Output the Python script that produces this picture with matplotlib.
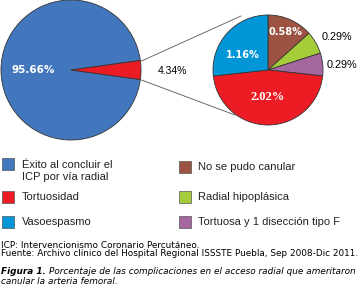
import matplotlib
matplotlib.use('Agg')
import matplotlib.pyplot as plt
from matplotlib.patches import Rectangle

# -------------------------------------------------------------------
# datos
# -------------------------------------------------------------------
big_labels = ['Éxito al concluir el\nICP por vía radial', 'Tortuosidad']
big_values = [95.66, 4.34]
big_colors = ['#4277BE', '#ED1C24']

small_labels = ['No se pudo canular', 'Radial hipoplásica',
                'Tortuosa y 1 disección tipo F', 'Tortuosidad', 'Vasoespasmo']
small_values = [0.58, 0.29, 0.29, 2.02, 1.16]
small_colors = ['#9C5342', '#A5CD39', '#A5679F', '#ED1C24', '#0096D8']

legend_left = ['Éxito al concluir el\nICP por vía radial', 'Tortuosidad', 'Vasoespasmo']
legend_left_colors = ['#4277BE', '#ED1C24', '#0096D8']
legend_right = ['No se pudo canular', 'Radial hipoplásica', 'Tortuosa y 1 disección tipo F']
legend_right_colors = ['#9C5342', '#A5CD39', '#A5679F']

H = 307  # alto en pixeles, para pasar de coordenadas de imagen a eje y hacia arriba

fig = plt.figure(figsize=(3.6, 3.07), dpi=100)
ax = fig.add_axes([0, 0, 1, 1])

# pastel grande
big_center = (71, H - 70)
big_r = 70
start = big_values[1] / sum(big_values) * 180
wedges, _ = ax.pie(big_values, colors=big_colors, startangle=start,
                   center=big_center, radius=big_r,
                   wedgeprops=dict(edgecolor='#333333', linewidth=0.6))

# pastel chico
small_center = (268, H - 70)
small_r = 55
ax.pie(small_values, colors=small_colors, startangle=90, counterclock=False,
       center=small_center, radius=small_r,
       wedgeprops=dict(edgecolor='#333333', linewidth=0.6))

ax.set_xlim(0, 360)
ax.set_ylim(0, H)
ax.set_aspect('equal')
ax.axis('off')

# lineas de conexion
ax.plot([141.5, 241], [H - 61, H - 16], color='#555555', lw=0.6)
ax.plot([141.5, 235], [H - 80, H - 115], color='#555555', lw=0.6)

# etiquetas
ax.text(33, H - 70, '95.66%', color='white', fontsize=7.5, fontweight='bold',
        family='DejaVu Sans', ha='center', va='center')
ax.text(172, H - 71, '4.34%', color='black', fontsize=7.5,
        family='Liberation Sans', ha='center', va='center')
ax.text(285, H - 32, '0.58%', color='white', fontsize=7, fontweight='bold',
        family='DejaVu Sans', ha='center', va='center')
ax.text(243, H - 55, '1.16%', color='white', fontsize=7, fontweight='bold',
        family='DejaVu Sans', ha='center', va='center')
ax.text(268, H - 97, '2.02%', color='white', fontsize=9, fontweight='bold',
        family='Liberation Serif', ha='center', va='center')
ax.text(337, H - 37, '0.29%', color='black', fontsize=7.8,
        family='Liberation Sans', ha='center', va='center')
ax.text(342, H - 65, '0.29%', color='black', fontsize=7.8,
        family='Liberation Sans', ha='center', va='center')

# leyenda manual
rows_y = [164, 197, 222]
for lab, col, y in zip(legend_left, legend_left_colors, rows_y):
    ax.add_patch(Rectangle((2, H - y - 6), 12, 12, facecolor=col,
                           edgecolor='#555555', lw=0.5))
    if '\n' in lab:
        ax.text(22, H - 171, lab, fontsize=8, family='Liberation Sans',
                va='center', ha='left', linespacing=1.3, color='#222222')
    else:
        ax.text(22, H - y, lab, fontsize=8, family='Liberation Sans',
                va='center', ha='left', color='#222222')
rows_y2 = [167, 197, 222]
for lab, col, y in zip(legend_right, legend_right_colors, rows_y2):
    ax.add_patch(Rectangle((179, H - y - 6), 12, 12, facecolor=col,
                           edgecolor='#555555', lw=0.5))
    ax.text(198, H - y, lab, fontsize=8, family='Liberation Sans',
            va='center', ha='left', color='#222222')

# notas
fs_note = 6.4
ax.text(1, H - 245, 'ICP: Intervencionismo Coronario Percutáneo.',
        fontsize=fs_note, family='DejaVu Sans', va='center', ha='left')
ax.text(1, H - 254, 'Fuente: Archivo clínico del Hospital Regional ISSSTE Puebla, Sep 2008-Dic 2011.',
        fontsize=fs_note, family='DejaVu Sans', va='center', ha='left')
t = ax.text(1, H - 272, 'Figura 1.', fontsize=fs_note, family='DejaVu Sans',
            fontweight='bold', style='italic', va='center', ha='left')
fig.canvas.draw()
bb = t.get_window_extent()
x_end = ax.transData.inverted().transform((bb.x1, bb.y0))[0]
ax.text(x_end + 3, H - 272, 'Porcentaje de las complicaciones en el acceso radial que ameritaron',
        fontsize=fs_note, family='DejaVu Sans', style='italic', va='center', ha='left')
ax.text(1, H - 281, 'canular la arteria femoral.',
        fontsize=fs_note, family='DejaVu Sans', style='italic', va='center', ha='left')

fig.savefig('out.png', dpi=100)
